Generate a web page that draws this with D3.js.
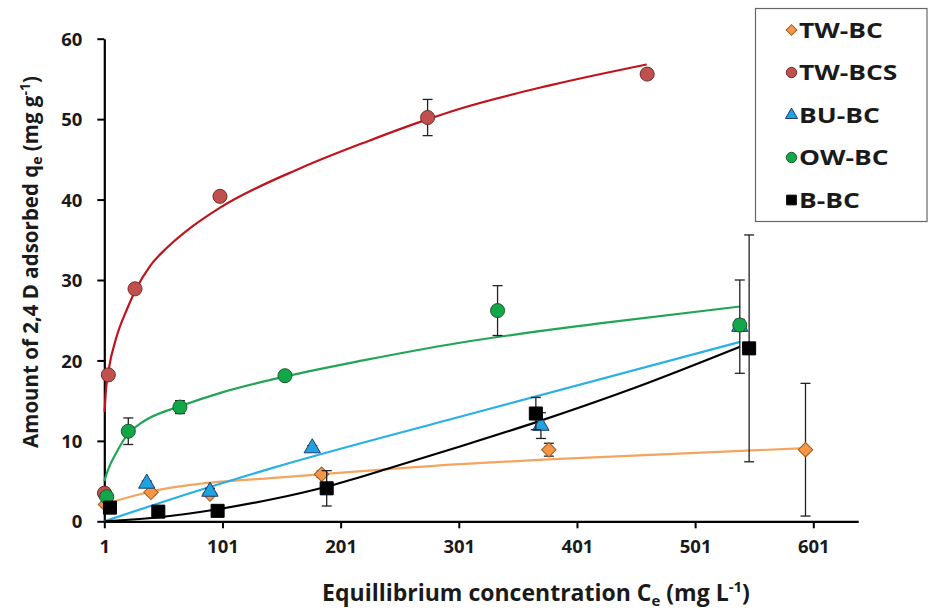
<!DOCTYPE html>
<html>
<head>
<meta charset="utf-8">
<script src="https://cdn.jsdelivr.net/npm/d3@7"></script>
<style>
  body { margin: 0; background: #fff; }
  svg { display: block; font-family: "Open Sans", Lato, sans-serif; font-weight: bold; }
</style>
</head>
<body>
<svg id="chart" width="930" height="609"></svg>
<script>
// tick labels
var xTicks = [1, 101, 201, 301, 401, 501, 601];
var yTicks = [0, 10, 20, 30, 40, 50, 60];

// series names (legend order)
var seriesNames = ["TW-BC", "TW-BCS", "BU-BC", "OW-BC", "B-BC"];

// measured points (Ce, qe, error)
var twbcX = [2, 40.5, 90.4, 184.9, 377.2, 594.4];
var twbcY = [2.1, 3.6, 3.4, 5.85, 8.9, 8.9];
var twbcErr = [0.3, 0.3, 0.3, 0.4, 0.8, 8.25];

var twbcsX = [1.2, 4.4, 27, 98.9, 274.6, 460.4];
var twbcsY = [3.5, 18.2, 28.9, 40.4, 50.2, 55.6];
var twbcsErr = [0.6, 0.3, 0.3, 0.3, 2.25, 0.3];

var bubcX = [36.9, 90.4, 177, 370.5, 538.8];
var bubcY = [4.7, 3.7, 9.1, 11.9, 24.2];
var bubcErr = [0.3, 0.4, 0.3, 1.6, 5.8];

var owbcX = [3, 21.3, 65, 153.9, 333.8, 538.8];
var owbcY = [3.06, 11.2, 14.2, 18.1, 26.2, 24.4];
var owbcErr = [0.5, 1.65, 0.8, 0.3, 3.1, 0.7];

var bbcX = [5.8, 46.7, 96.9, 189.2, 366.2, 546.7];
var bbcY = [1.7, 1.2, 1.3, 4.1, 13.4, 21.5];
var bbcErr = [0.3, 0.6, 0.3, 2.2, 2.0, 14.1];

// fitted curves
var twbcFit = [[1, 2.0], [10, 2.5], [27, 3.2], [40.5, 3.7], [78, 4.6], [145, 5.4], [185, 5.85], [302, 7.1], [377, 7.7], [594, 9.1]];
var twbcsFit = [[1.2, 13.6], [2.5, 16.5], [4.4, 18.6], [11.5, 23], [20, 26.3], [27.6, 28.8], [40, 31.8], [54, 34.0], [75, 36.6], [99, 39.0], [167, 43.9], [223, 47.2], [275, 50.0], [302, 51.3], [378, 54.2], [460, 56.8]];
var bubcFit = [[1, 0], [78, 3.7], [145, 6.7], [302, 13.0], [539, 22.3]];
var owbcFit = [[1, 5.0], [4.4, 6.5], [10, 8.2], [21.3, 10.9], [30, 12.0], [40, 12.9], [65, 14.3], [100, 16.0], [154, 18.0], [220, 20.0], [302, 22.2], [420, 24.6], [539, 26.7]];
var bbcFit = [[1, 0], [47, 0.5], [97, 1.5], [145, 2.8], [189, 4.3], [240, 6.5], [302, 9.3], [366, 12.3], [450, 16.6], [539, 21.7]];

var svg = d3.select("#chart");

var x = d3.scaleLinear().domain([1, 639]).range([104.3, 858.2]);
var y = d3.scaleLinear().domain([0, 60]).range([521.3, 38.7]);

var series = [
    {name: "TW-BC", xs: twbcX, ys: twbcY, err: twbcErr, fit: twbcFit, shape: "diamond", fill: "#F79646", stroke: "#9c5a22", line: "#F5A45E"},
    {name: "TW-BCS", xs: twbcsX, ys: twbcsY, err: twbcsErr, fit: twbcsFit, shape: "circle", fill: "#C0504D", stroke: "#6e2b29", line: "#C0141C"},
    {name: "BU-BC", xs: bubcX, ys: bubcY, err: bubcErr, fit: bubcFit, shape: "triangle", fill: "#1FA3E0", stroke: "#1f3a6a", line: "#29B0E6"},
    {name: "OW-BC", xs: owbcX, ys: owbcY, err: owbcErr, fit: owbcFit, shape: "circle", fill: "#12A84A", stroke: "#1b5a2e", line: "#21A555"},
    {name: "B-BC", xs: bbcX, ys: bbcY, err: bbcErr, fit: bbcFit, shape: "square", fill: "#000", stroke: "#000", line: "#000"}
];

function symbolPath(shape, big) {
    var k = big ? 1 : 0.55;
    if (shape == "circle") return d3.symbol(d3.symbolCircle, 155 * k)();
    if (shape == "square") return d3.symbol(d3.symbolSquare, 170 * k)();
    if (shape == "triangle") return d3.symbol(d3.symbolTriangle, 115 * k)();
    return d3.symbol(d3.symbolSquare, 105 * k)();
}

// axes
var xAxis = d3.axisBottom(x).tickValues(xTicks).tickSize(7).tickSizeOuter(0).tickPadding(12);
var yAxis = d3.axisLeft(y).tickValues(yTicks).tickSize(7).tickSizeOuter(0).tickPadding(15);

var gx = svg.append("g").attr("transform", "translate(0," + y(0) + ")").call(xAxis);
var gy = svg.append("g").attr("transform", "translate(" + x(1) + ",0)").call(yAxis);

[gx, gy].forEach(function (g) {
    g.select(".domain").attr("stroke", "#000").attr("stroke-width", 2.2);
    g.selectAll(".tick line").attr("stroke", "#000").attr("stroke-width", 2);
    g.selectAll(".tick text").attr("fill", "#1a1a1a").style("font-size", "18.5px").style("font-weight", "bold")
        .style("font-family", "'Open Sans', Lato, sans-serif");
});
gy.selectAll(".tick text").attr("dy", "0.36em");

// fitted curves
var line = d3.line()
    .x(function (d) { return x(d[0]); })
    .y(function (d) { return y(d[1]); })
    .curve(d3.curveMonotoneX);

series.forEach(function (s) {
    svg.append("path")
        .attr("d", line(s.fit))
        .attr("fill", "none")
        .attr("stroke", s.line)
        .attr("stroke-width", 2.2);
});

// error bars and markers
series.forEach(function (s) {
    var g = svg.append("g");
    s.xs.forEach(function (cx, i) {
        var px = x(cx);
        var top = y(s.ys[i] + s.err[i]);
        var bot = y(s.ys[i] - s.err[i]);
        g.append("line").attr("x1", px).attr("x2", px).attr("y1", top).attr("y2", bot)
            .attr("stroke", "#222").attr("stroke-width", 1.3);
        [top, bot].forEach(function (yy) {
            g.append("line").attr("x1", px - 5).attr("x2", px + 5).attr("y1", yy).attr("y2", yy)
                .attr("stroke", "#222").attr("stroke-width", 1.3);
        });
    });
    s.xs.forEach(function (cx, i) {
        g.append("path")
            .attr("d", symbolPath(s.shape, true))
            .attr("transform", "translate(" + x(cx) + "," + y(s.ys[i]) + ")" + (s.shape == "diamond" ? " rotate(45)" : ""))
            .attr("fill", s.fill)
            .attr("stroke", s.stroke)
            .attr("stroke-width", 1);
    });
});

// axis titles
var xt = svg.append("text")
    .attr("x", 536).attr("y", 601)
    .attr("text-anchor", "middle")
    .style("font-size", "23px")
    .attr("fill", "#1a1a1a");
xt.append("tspan").text("Equillibrium concentration  C");
xt.append("tspan").text("e").style("font-size", "15px").attr("dy", 5);
xt.append("tspan").text(" (mg L").attr("dy", -5);
xt.append("tspan").text("-1").style("font-size", "15px").attr("dy", -9);
xt.append("tspan").text(")").attr("dy", 9);

var yt = svg.append("text")
    .attr("transform", "translate(38,262) rotate(-90)")
    .attr("text-anchor", "middle")
    .style("font-size", "20.5px")
    .attr("fill", "#1a1a1a");
yt.append("tspan").text("Amount of 2,4 D adsorbed q");
yt.append("tspan").text("e").style("font-size", "14px").attr("dy", 4);
yt.append("tspan").text(" (mg g").attr("dy", -4);
yt.append("tspan").text("-1").style("font-size", "14px").attr("dy", -8);
yt.append("tspan").text(")").attr("dy", 8);

// legend
var legend = svg.append("g");
legend.append("rect")
    .attr("x", 755.5).attr("y", 8.5).attr("width", 171.5).attr("height", 213)
    .attr("fill", "#fff").attr("stroke", "#666").attr("stroke-width", 1.2);

var rowY = d3.scalePoint().domain(seriesNames).range([30, 200]);
series.forEach(function (s) {
    var ry = rowY(s.name);
    legend.append("path")
        .attr("d", symbolPath(s.shape, false))
        .attr("transform", "translate(791.5," + ry + ")" + (s.shape == "diamond" ? " rotate(45)" : ""))
        .attr("fill", s.fill)
        .attr("stroke", s.stroke)
        .attr("stroke-width", 1);
    // legend text in the original is a bit stretched sideways
    legend.append("text")
        .attr("transform", "translate(799," + ry + ") scale(1.2,1)")
        .attr("dy", "0.36em")
        .style("font-size", "22px")
        .attr("fill", "#1a1a1a")
        .text(s.name);
});
</script>
</body>
</html>
